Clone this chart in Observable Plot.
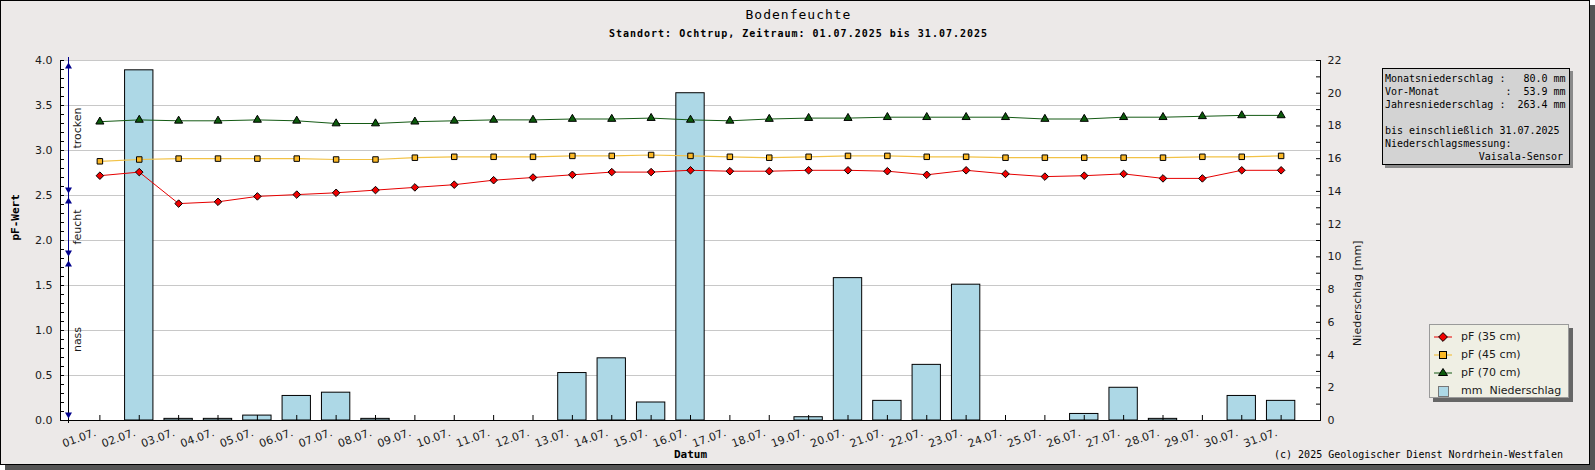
<!DOCTYPE html>
<html><head><meta charset="utf-8">
<script src="https://cdn.jsdelivr.net/npm/d3@7"></script>
<script src="https://cdn.jsdelivr.net/npm/@observablehq/plot@0.6"></script>
<style>
body{margin:0;background:#fff;width:1595px;height:470px;overflow:hidden;position:relative;font-family:"DejaVu Sans",sans-serif;}
#frame{position:absolute;left:0;top:0;width:1590px;height:465px;box-sizing:border-box;border:1px solid #000;background:#ece9e8;box-shadow:5px 5px 0 #555;}
#title{position:absolute;left:0;top:8px;width:1597px;text-align:center;font:13px/13px "DejaVu Sans Mono",monospace;letter-spacing:1px;color:#000;}
#subtitle{position:absolute;left:0;top:29px;width:1597px;text-align:center;font:bold 10px/10px "DejaVu Sans Mono",monospace;letter-spacing:1px;color:#000;}
#chart{position:absolute;left:0;top:45px;}
#info{position:absolute;left:1382px;top:68px;width:188px;height:97px;box-sizing:border-box;border:1px solid #000;background:#d3d3d3;box-shadow:3px 3px 0 #8a8a8a;padding:3px 2px 0 2px;font:10px/13px "DejaVu Sans Mono",monospace;color:#000;white-space:pre;}
#info .r{text-align:right;padding-right:4px;}
#legend{position:absolute;left:1429px;top:324px;width:140px;height:74px;box-sizing:border-box;border:1px solid #9a9a9a;background:#efefe4;box-shadow:4px 4px 0 #666;}
#legend .row{position:absolute;left:0;height:18px;width:138px;}
#legend svg{position:absolute;left:0;top:0;}
#legend span{position:absolute;left:31px;top:2px;font:11px/14px "DejaVu Sans",sans-serif;color:#1a1a1a;white-space:pre;}
#copy{position:absolute;left:0;top:449px;width:1563px;text-align:right;font:10px/12px "DejaVu Sans Mono",monospace;color:#000;}
</style>
</head><body>
<div id="frame"></div>
<div id="title"></div>
<div id="subtitle"></div>
<div id="chart"></div>
<div id="info"></div>
<div id="legend"></div>
<div id="copy"></div>
<script>
// ---- data ----
const days = [1,2,3,4,5,6,7,8,9,10,11,12,13,14,15,16,17,18,19,20,21,22,23,24,25,26,27,28,29,30,31];
const dayLabels = ["01.07.","02.07.","03.07.","04.07.","05.07.","06.07.","07.07.","08.07.","09.07.","10.07.","11.07.","12.07.","13.07.","14.07.","15.07.","16.07.","17.07.","18.07.","19.07.","20.07.","21.07.","22.07.","23.07.","24.07.","25.07.","26.07.","27.07.","28.07.","29.07.","30.07.","31.07."];
const pF35 = [2.72,2.76,2.41,2.43,2.49,2.51,2.53,2.56,2.59,2.62,2.67,2.70,2.73,2.76,2.76,2.78,2.77,2.77,2.78,2.78,2.77,2.73,2.78,2.74,2.71,2.72,2.74,2.69,2.69,2.78,2.78];
const pF45 = [2.88,2.90,2.91,2.91,2.91,2.91,2.90,2.90,2.92,2.93,2.93,2.93,2.94,2.94,2.95,2.94,2.93,2.92,2.93,2.94,2.94,2.93,2.93,2.92,2.92,2.92,2.92,2.92,2.93,2.93,2.94];
const pF70 = [3.32,3.34,3.33,3.33,3.34,3.33,3.30,3.30,3.32,3.33,3.34,3.34,3.35,3.35,3.36,3.34,3.33,3.35,3.36,3.36,3.37,3.37,3.37,3.37,3.35,3.35,3.37,3.37,3.38,3.39,3.39];
const rainMm = [0,21.4,0.1,0.1,0.3,1.5,1.7,0.1,0,0,0,0,2.9,3.8,1.1,20.0,0,0,0.2,8.7,1.2,3.4,8.3,0,0,0.4,2.0,0.1,0,1.5,1.2];
const pfTicks = [0,0.5,1.0,1.5,2.0,2.5,3.0,3.5,4.0];
const mmTicks = [0,2,4,6,8,10,12,14,16,18,20,22];
const zoneNames = ["trocken","feucht","nass"];
const zoneLow = [2.5,1.8,0.0];
const zoneHigh = [4.0,2.5,1.8];
const titleText = "Bodenfeuchte";
const subtitleText = "Standort: Ochtrup, Zeitraum: 01.07.2025 bis 31.07.2025";
const infoLines = [
  "Monatsniederschlag :   80.0 mm",
  "Vor-Monat           :  53.9 mm",
  "Jahresniederschlag :  263.4 mm",
  "",
  "bis einschließlich 31.07.2025",
  "Niederschlagsmessung:"
];
const infoRight = "Vaisala-Sensor";
const legendLabels = ["pF (35 cm)","pF (45 cm)","pF (70 cm)","mm  Niederschlag"];
const copyText = "(c) 2025 Geologischer Dienst Nordrhein-Westfalen";

// ---- derived tables ----
const rows = days.map((d,i)=>({day:d,label:dayLabels[i],p35:pF35[i],p45:pF45[i],p70:pF70[i],rain:rainMm[i]}));
const zones = zoneNames.map((n,i)=>({name:n,lo:zoneLow[i],hi:zoneHigh[i]}));
const xDomain = [0, 32];
const pfMax = 4, mmMax = 22;
const toPf = mm => mm * pfMax / mmMax;
const pfMinor = d3.range(0, 41).map(i => i / 10);
const mmMinor = d3.range(0, 23).map(toPf);

// ---- styles ----
const C35 = "#e60000", C45 = "#f2c246", C70 = "#145a14";
const F35 = "#f00000", F45 = "#fbb825", F70 = "#0b5a0b";
const navy = "#00008b";
const zoneColor = {trocken: navy, feucht: navy, nass: "#000"};
const triDown = {draw(ctx, size){ const y = Math.sqrt(size/(3*Math.sqrt(3))); ctx.moveTo(0, 2*y); ctx.lineTo(-Math.sqrt(3)*y, -y); ctx.lineTo(Math.sqrt(3)*y, -y); ctx.closePath(); }};

const chart = Plot.plot({
  width: 1595, height: 425,
  marginLeft: 60, marginRight: 275, marginTop: 15, marginBottom: 50,
  x: {domain: xDomain},
  y: {domain: [0, pfMax]},
  color: {type: "identity"},
  style: {fontFamily: "DejaVu Sans", fontSize: "11px", background: "transparent", color: "#1a1a1a", overflow: "visible"},
  marks: [
    Plot.frame({fill: "white", stroke: "none"}),
    Plot.gridY(pfTicks.filter(v => v > 0), {stroke: "#c8c8c8", strokeOpacity: 1}),
    Plot.rect(rows.filter(d => d.rain > 0), {x1: d => d.day - 0.36, x2: d => d.day + 0.36, y1: 0, y2: d => toPf(d.rain), fill: "#add8e6", stroke: "#000", strokeWidth: 1}),
    // zone annotation
    Plot.ruleX(zones, {x: xDomain[0], y1: "lo", y2: "hi", dx: 8, insetTop: 3, insetBottom: 3, stroke: d => zoneColor[d.name], strokeWidth: 1}),
    Plot.dot(zones, {x: xDomain[0], y: "hi", dx: 8, dy: 6, symbol: "triangle", r: 2.6, fill: navy, stroke: "none"}),
    Plot.dot(zones, {x: xDomain[0], y: "lo", dx: 8, dy: -6, symbol: triDown, r: 2.6, fill: navy, stroke: "none"}),
    Plot.text(zones, {x: xDomain[0], y: d => (d.lo + d.hi) / 2, text: "name", rotate: -90, dx: 17, fontSize: 11, fill: "#1a1a1a"}),
    // axes lines
    Plot.ruleX([xDomain[0], xDomain[1]], {stroke: "#000"}),
    Plot.ruleY([0], {stroke: "#000"}),
    // series
    Plot.line(rows, {x: "day", y: "p70", stroke: C70, strokeWidth: 1}),
    Plot.line(rows, {x: "day", y: "p45", stroke: C45, strokeWidth: 1.2}),
    Plot.line(rows, {x: "day", y: "p35", stroke: C35, strokeWidth: 1}),
    Plot.dot(rows, {x: "day", y: "p70", symbol: "triangle", r: 3, fill: F70, stroke: "#000", strokeWidth: 1}),
    Plot.dot(rows, {x: "day", y: "p45", symbol: "square", r: 3.1, fill: F45, stroke: "#000", strokeWidth: 1}),
    Plot.dot(rows, {x: "day", y: "p35", symbol: "diamond2", r: 3.4, fill: F35, stroke: "#000", strokeWidth: 1}),
    // left axis
    Plot.axisY(pfTicks, {anchor: "left", tickSize: 0, tickPadding: 8, tickFormat: d => d.toFixed(1), label: null, fontSize: 11}),
    Plot.axisY(pfMinor, {anchor: "left", tickSize: 4, dx: 4, fill: "none", label: null, stroke: "#000"}),
    // right axis
    Plot.axisY(mmTicks.map(toPf), {anchor: "right", tickSize: 0, tickPadding: 7, tickFormat: d => String(Math.round(d * mmMax / pfMax)), label: null, fontSize: 11}),
    Plot.axisY(mmMinor, {anchor: "right", tickSize: 5, dx: -5, fill: "none", label: null, stroke: "#000"}),
    // bottom axis
    Plot.axisX(days, {anchor: "bottom", tickSize: 5, dy: -5, fill: "none", label: null, stroke: "#000"}),
    Plot.text(rows, {x: "day", text: "label", frameAnchor: "bottom", rotate: -20, textAnchor: "end", lineAnchor: "bottom", dx: -3, dy: 15, fontSize: 11, fill: "#1a1a1a"}),
    // axis titles
    Plot.text(["pF-Wert"], {text: d => d, frameAnchor: "left", rotate: -90, dx: -45, fontFamily: "DejaVu Sans Mono", fontWeight: "bold", fontSize: 11, fill: "#000"}),
    Plot.text(["Niederschlag [mm]"], {text: d => d, frameAnchor: "right", rotate: -90, dx: 37, fontSize: 11, fill: "#1a1a1a"}),
    Plot.text(["Datum"], {text: d => d, frameAnchor: "bottom", dy: 37, fontFamily: "DejaVu Sans Mono", fontWeight: "bold", fontSize: 11, fill: "#000"})
  ]
});
document.getElementById("chart").appendChild(chart);

// ---- text blocks ----
document.getElementById("title").textContent = titleText;
document.getElementById("subtitle").textContent = subtitleText;
const info = document.getElementById("info");
infoLines.forEach(l => { const d = document.createElement("div"); d.textContent = l === "" ? " " : l; info.appendChild(d); });
const ir = document.createElement("div"); ir.className = "r"; ir.textContent = infoRight; info.appendChild(ir);
document.getElementById("copy").textContent = copyText;

// ---- legend ----
const legend = document.getElementById("legend");
const sym = [
  `<line x1="4" y1="9" x2="22" y2="9" stroke="${C35}" stroke-width="1"/><path d="M13,4.6L17.4,9L13,13.4L8.6,9Z" fill="${F35}" stroke="#000"/>`,
  `<line x1="4" y1="9" x2="22" y2="9" stroke="${C45}" stroke-width="1.2"/><rect x="9.5" y="5.5" width="7" height="7" fill="${F45}" stroke="#000"/>`,
  `<line x1="4" y1="9" x2="22" y2="9" stroke="${C70}" stroke-width="1"/><path d="M13,4.5L17.5,11.5L8.5,11.5Z" fill="${F70}" stroke="#000"/>`,
  `<rect x="8.5" y="4.5" width="10" height="10" fill="#add8e6" stroke="#777"/>`
];
legendLabels.forEach((lab, i) => {
  const r = document.createElement("div");
  r.className = "row";
  r.style.top = (3 + i * 18) + "px";
  r.innerHTML = `<svg width="30" height="18">${sym[i]}</svg><span></span>`;
  r.querySelector("span").textContent = lab;
  legend.appendChild(r);
});
</script>
</body></html>
